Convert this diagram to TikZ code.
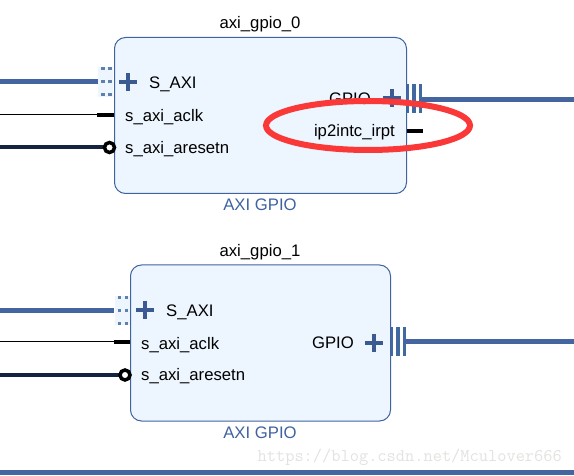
\documentclass[tikz,border=0pt]{standalone}
\usetikzlibrary{shapes.geometric}
\usepackage{fontspec}
\setmainfont{Liberation Sans}
\setmonofont{Latin Modern Mono}
\definecolor{busblue}{HTML}{4565A0}
\definecolor{edgeblue}{HTML}{3F62A0}
\definecolor{fillblue}{HTML}{EDF5FE}
\definecolor{plusblue}{HTML}{3B5A92}
\definecolor{navy}{HTML}{14233F}
\definecolor{barblue}{HTML}{41699F}
\definecolor{ringred}{HTML}{FA3838}
\definecolor{markgrey}{HTML}{E2E2DE}
\tikzset{
  x=1pt,y=-1pt,
  block/.style={draw=edgeblue,line width=1pt,fill=fillblue,rounded corners=11pt,minimum height=156pt,inner sep=0pt,anchor=north west},
  pinlabel/.style={font=\fontsize{16.7}{18}\selectfont,inner sep=0pt,anchor=base west},
  pinlabelr/.style={font=\fontsize{16.7}{18}\selectfont,inner sep=0pt,anchor=base east},
  title/.style={font=\fontsize{16.7}{18}\selectfont,inner sep=0pt,anchor=base},
  kind/.style={font=\fontsize{16.7}{18}\selectfont,text=edgeblue,inner sep=0pt,anchor=base},
  buswire/.style={draw=busblue,line width=5pt},
  clkwire/.style={draw=black,line width=1pt},
  rstwire/.style={draw=navy,line width=4pt},
  stub/.style={draw=black,line width=4pt},
  ring/.style={circle,draw=black,line width=3.5pt,fill=white,minimum size=10pt,inner sep=0pt},
  plusv/.style={draw=plusblue,line width=4pt},
  bar/.style={fill=barblue,draw=none},
  dot/.style={fill=barblue!85,draw=none},
  halo/.style={fill=fillblue,draw=none},
}
\newcommand{\plusmark}[2]{%
  \draw[plusv] (#1-9,#2) -- (#1+9,#2);
  \draw[plusv] (#1,#2-9) -- (#1,#2+9);}
\newcommand{\dotmark}[2]{%
  \fill[halo] (#1,#2-14.5) rectangle (#1+15,#2+15);
  \foreach \dy in {-13,0,13}{
    \fill[dot] (#1+3,#2+\dy-1.5) rectangle (#1+6.5,#2+\dy+1.5);
    \fill[dot] (#1+10,#2+\dy-1.5) rectangle (#1+13.5,#2+\dy+1.5);}}
\begin{document}
\begin{tikzpicture}
\useasboundingbox (0,0) rectangle (574,476);
% block 0
\node[block,minimum width=292pt] (blockA) at (114,37) {};
\node[title] (titleA) at (260,29) {axi\_gpio\_0};
\node[kind] (kindA) at (260,211) {AXI GPIO};
\coordinate (a1L) at (0,82);
\coordinate (a1R) at (98,82);
\coordinate (a2L) at (0,115);
\coordinate (a2M) at (97,115);
\coordinate (a2R) at (114,115);
\coordinate (a3L) at (0,147.5);
\coordinate (a3M) at (104,147.5);
\coordinate (a4L) at (422,99.5);
\coordinate (a4R) at (574,99.5);
\coordinate (a5L) at (407,131);
\coordinate (a5R) at (423,131);
\draw[buswire] (a1L) -- (a1R);
\dotmark{98}{82}
\draw[clkwire] (a2L) -- (a2M);
\draw[stub] (a2M) -- (a2R);
\draw[rstwire] (a3L) -- (a3M);
\node[ring] (ringA) at (109.5,147.5) {};
\plusmark{128}{82}
\node[pinlabel] (sA) at (149,89) {S\_AXI};
\node[pinlabel] (clkA) at (125,122) {s\_axi\_aclk};
\node[pinlabel] (rstA) at (125,154) {s\_axi\_aresetn};
\node[pinlabelr] (gpioA) at (371,104.5) {GPIO};
\plusmark{392}{98}
\fill[bar] (406.5,84) rectangle (408.5,113);
\fill[bar] (412,84) rectangle (415.5,113);
\fill[bar] (418.5,84) rectangle (422,113);
\draw[buswire] (a4L) -- (a4R);
\node[pinlabelr] (irqA) at (395,137) {ip2intc\_irpt};
\draw[stub] (a5L) -- (a5R);
% block 1
\node[block,minimum width=260pt] (blockB) at (130,264.5) {};
\node[title] (titleB) at (260,257) {axi\_gpio\_1};
\node[kind] (kindB) at (260,438.5) {AXI GPIO};
\coordinate (b1L) at (0,310.5);
\coordinate (b1R) at (114,310.5);
\coordinate (b2L) at (0,342);
\coordinate (b2M) at (114,342);
\coordinate (b2R) at (130,342);
\coordinate (b3L) at (0,375);
\coordinate (b3M) at (120,375);
\coordinate (b4L) at (406,342);
\coordinate (b4R) at (574,342);
\draw[buswire] (b1L) -- (b1R);
\dotmark{114.5}{310.5}
\draw[clkwire] (b2L) -- (b2M);
\draw[stub] (b2M) -- (b2R);
\draw[rstwire] (b3L) -- (b3M);
\node[ring] (ringB) at (125,375) {};
\plusmark{145}{310}
\node[pinlabel] (sB) at (166,316.5) {S\_AXI};
\node[pinlabel] (clkB) at (141,349) {s\_axi\_aclk};
\node[pinlabel] (rstB) at (141,381) {s\_axi\_aresetn};
\node[pinlabelr] (gpioB) at (354,348.5) {GPIO};
\plusmark{374}{343}
\fill[bar] (390.5,327) rectangle (393,356);
\fill[bar] (396,327) rectangle (400,356);
\fill[bar] (403,327) rectangle (406,356);
\draw[buswire] (b4L) -- (b4R);
% bottom bar, watermark, annotation
\coordinate (barL) at (0,472.5);
\coordinate (barR) at (574,472.5);
\draw[buswire] (barL) -- (barR);
\node[font=\ttfamily\fontsize{17.9}{19}\selectfont,text=markgrey,inner sep=0pt,anchor=base east] (mark) at (562,461) {https://blog.csdn.net/Mculover666};
\node[draw=ringred,line width=6pt,ellipse,minimum width=204pt,minimum height=49pt,inner sep=0pt] (oval) at (368,125.5) {};
\end{tikzpicture}
\end{document}
